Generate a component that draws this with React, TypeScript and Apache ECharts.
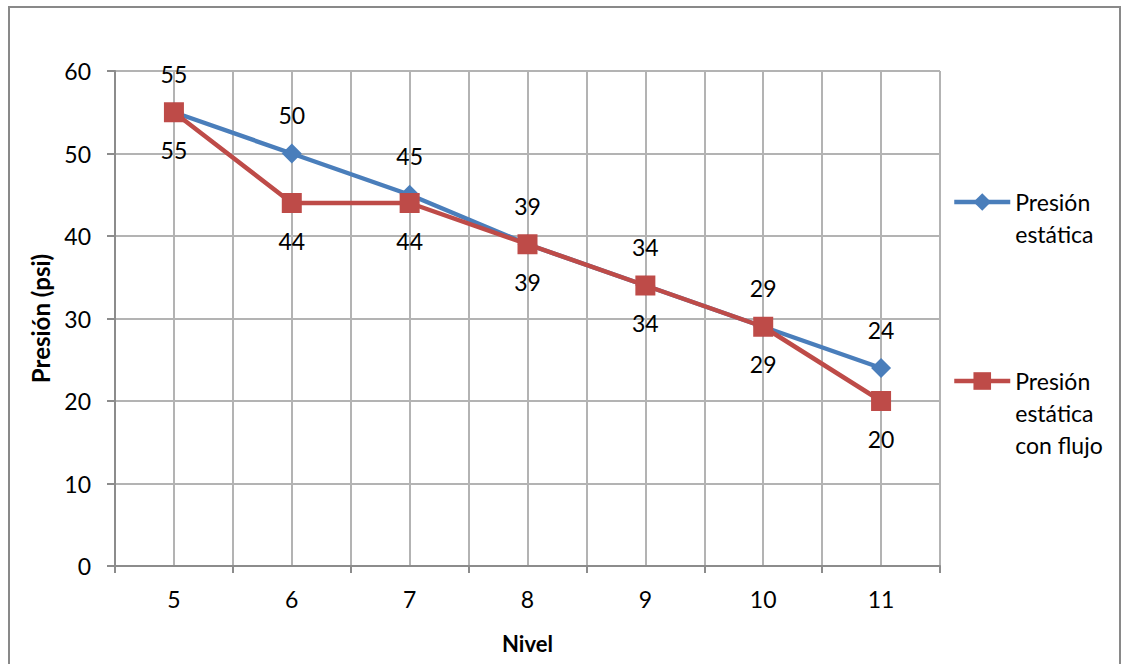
import React, { useEffect, useRef } from "react";
import * as echarts from "echarts";

const niveles = ["5", "6", "7", "8", "9", "10", "11"];
const presionEstatica = [55, 50, 45, 39, 34, 29, 24];
const presionConFlujo = [55, 44, 44, 39, 34, 29, 20];
const nombreEstatica = "Presión estática";
const nombreConFlujo = "Presión estática con flujo";

const FONT = "Lato, 'Open Sans', sans-serif";
const BLUE = "#4a7ebb";
const RED = "#be4b48";
const GRID = "#b3b3b3";
const AXIS = "#8c8c8c";
const FS = 23;

// Legend text: leading blank lines keep the first line level with the icon.
const legendText: Record<string, string> = {
  [nombreEstatica]: " \nPresión\nestática",
  [nombreConFlujo]: " \n \nPresión\nestática\ncon flujo",
};

export default function App() {
  const ref = useRef<HTMLDivElement>(null);

  useEffect(() => {
    if (!ref.current) return;
    const chart = echarts.init(ref.current, undefined, { renderer: "svg" });
    const legendBase = {
      orient: "vertical",
      left: 947,
      itemWidth: 56,
      itemHeight: 22,
      itemGap: 0,
      formatter: (n: string) => legendText[n],
      textStyle: { fontSize: FS, lineHeight: 32, color: "#000", fontFamily: FONT },
      lineStyle: { width: 4.5 },
    };
    chart.setOption({
      animation: false,
      backgroundColor: "#ffffff",
      textStyle: { fontFamily: FONT },
      graphic: [
        {
          type: "rect",
          shape: { x: 9, y: 7, width: 1111, height: 680 },
          style: { fill: "none", stroke: "#898989", lineWidth: 2 },
          silent: true,
          z: -10,
        },
      ],
      grid: { left: 115, right: 182, top: 71, bottom: 98 },
      legend: [
        { ...legendBase, top: 203 - 54, data: [nombreEstatica] },
        { ...legendBase, top: 382 - 86, data: [nombreConFlujo] },
      ],
      xAxis: [
        {
          type: "category",
          data: niveles,
          boundaryGap: true,
          name: "Nivel",
          nameLocation: "middle",
          nameGap: 66,
          nameTextStyle: { fontSize: FS - 1, fontWeight: "bold", color: "#000", fontFamily: FONT },
          axisLine: { lineStyle: { color: AXIS, width: 2 } },
          axisTick: { show: true, length: 7, lineStyle: { color: AXIS, width: 2 } },
          axisLabel: { fontSize: FS, color: "#000", margin: 21, fontFamily: FONT },
          splitLine: { show: true, lineStyle: { color: GRID, width: 2 } },
        },
        {
          type: "value",
          min: 4.5,
          max: 11.5,
          interval: 0.5,
          position: "bottom",
          axisLine: { show: false },
          axisTick: { show: false },
          axisLabel: { show: false },
          splitLine: { show: true, lineStyle: { color: GRID, width: 2 } },
          z: 0,
        },
      ],
      yAxis: {
        type: "value",
        min: 0,
        max: 60,
        interval: 10,
        name: "Presión (psi)",
        nameLocation: "middle",
        nameGap: 63,
        nameTextStyle: { fontSize: FS + 1, fontWeight: "bold", color: "#000", fontFamily: FONT },
        axisLine: { show: true, lineStyle: { color: AXIS, width: 2 } },
        axisTick: { show: true, length: 8, lineStyle: { color: AXIS, width: 2 } },
        axisLabel: { fontSize: FS, color: "#000", margin: 24, fontFamily: FONT },
        splitLine: { show: true, lineStyle: { color: GRID, width: 2 } },
      },
      series: [
        {
          name: nombreEstatica,
          type: "line",
          data: presionEstatica,
          xAxisIndex: 0,
          symbol: "diamond",
          symbolSize: 20,
          color: BLUE,
          lineStyle: { color: BLUE, width: 4.5 },
          itemStyle: { color: BLUE },
          label: {
            show: true,
            position: "top",
            distance: 17,
            fontSize: FS,
            color: "#000",
            fontFamily: FONT,
          },
          z: 3,
        },
        {
          name: nombreConFlujo,
          type: "line",
          data: presionConFlujo,
          xAxisIndex: 0,
          symbol: "rect",
          symbolSize: 20,
          color: RED,
          lineStyle: { color: RED, width: 4.5 },
          itemStyle: { color: RED },
          label: {
            show: true,
            position: "bottom",
            distance: 16,
            fontSize: FS,
            color: "#000",
            fontFamily: FONT,
          },
          z: 4,
        },
      ],
    });
    return () => chart.dispose();
  }, []);

  return (
    <div
      ref={ref}
      style={{ position: "fixed", left: 0, top: 0, width: 1122, height: 664 }}
    />
  );
}
